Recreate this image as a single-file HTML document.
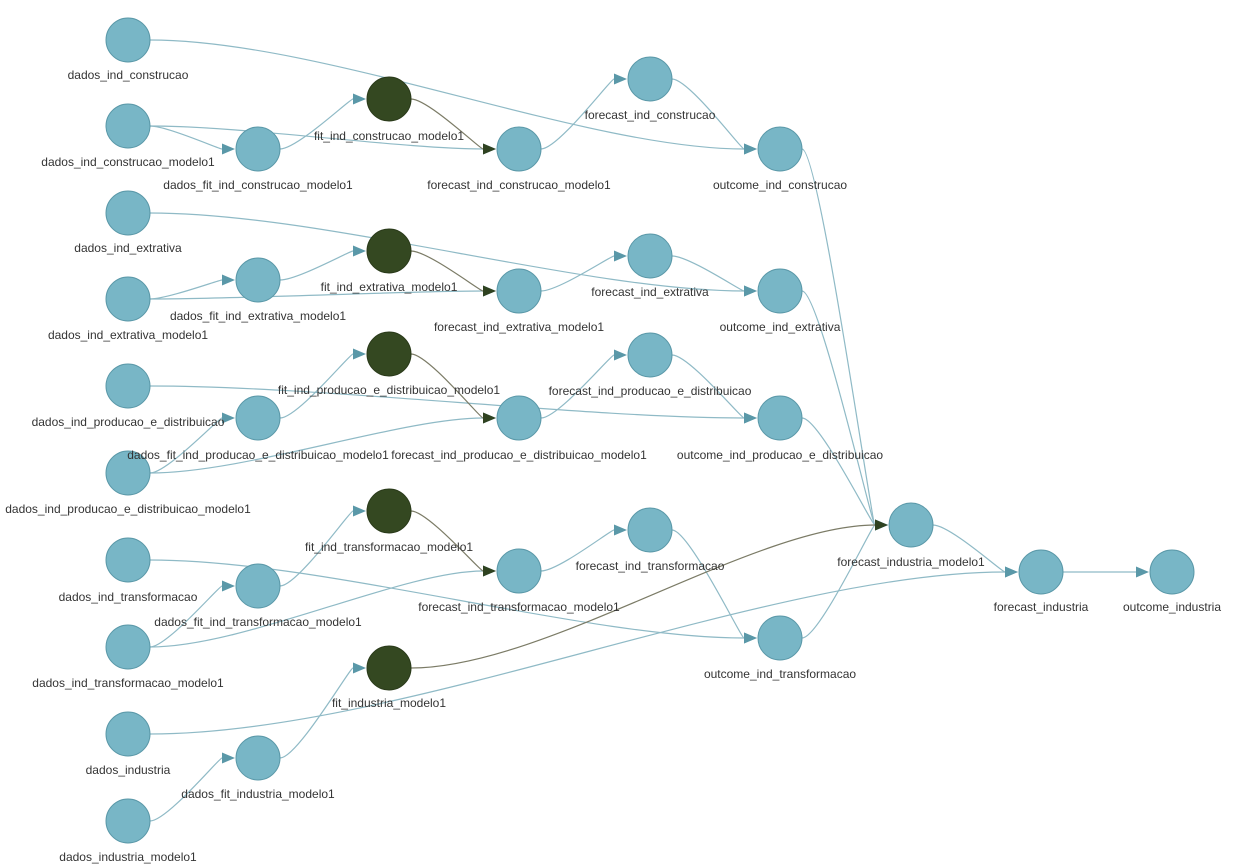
<!DOCTYPE html>
<html><head><meta charset="utf-8"><style>
html,body{margin:0;padding:0;background:#fff;}
svg{display:block}
text{font-family:"Liberation Sans",sans-serif;font-size:12px;fill:#343434;text-anchor:middle}
</style></head><body>
<svg id="g" width="1245" height="864" xmlns="http://www.w3.org/2000/svg">
<g id="edges"></g><g id="nodes"></g>
<g id="labels">
<text x="128" y="79">dados_ind_construcao</text>
<text x="128" y="166">dados_ind_construcao_modelo1</text>
<text x="258" y="189">dados_fit_ind_construcao_modelo1</text>
<text x="389" y="140">fit_ind_construcao_modelo1</text>
<text x="519" y="189">forecast_ind_construcao_modelo1</text>
<text x="650" y="119">forecast_ind_construcao</text>
<text x="780" y="189">outcome_ind_construcao</text>
<text x="128" y="252">dados_ind_extrativa</text>
<text x="128" y="339">dados_ind_extrativa_modelo1</text>
<text x="258" y="320">dados_fit_ind_extrativa_modelo1</text>
<text x="389" y="291">fit_ind_extrativa_modelo1</text>
<text x="519" y="331">forecast_ind_extrativa_modelo1</text>
<text x="650" y="296">forecast_ind_extrativa</text>
<text x="780" y="331">outcome_ind_extrativa</text>
<text x="128" y="426">dados_ind_producao_e_distribuicao</text>
<text x="128" y="513">dados_ind_producao_e_distribuicao_modelo1</text>
<text x="258" y="459">dados_fit_ind_producao_e_distribuicao_modelo1</text>
<text x="389" y="394">fit_ind_producao_e_distribuicao_modelo1</text>
<text x="519" y="459">forecast_ind_producao_e_distribuicao_modelo1</text>
<text x="650" y="395">forecast_ind_producao_e_distribuicao</text>
<text x="780" y="459">outcome_ind_producao_e_distribuicao</text>
<text x="128" y="601">dados_ind_transformacao</text>
<text x="128" y="687">dados_ind_transformacao_modelo1</text>
<text x="258" y="626">dados_fit_ind_transformacao_modelo1</text>
<text x="389" y="551">fit_ind_transformacao_modelo1</text>
<text x="519" y="611">forecast_ind_transformacao_modelo1</text>
<text x="650" y="570">forecast_ind_transformacao</text>
<text x="780" y="678">outcome_ind_transformacao</text>
<text x="128" y="774">dados_industria</text>
<text x="128" y="861">dados_industria_modelo1</text>
<text x="258" y="798">dados_fit_industria_modelo1</text>
<text x="389" y="707">fit_industria_modelo1</text>
<text x="911" y="566">forecast_industria_modelo1</text>
<text x="1041" y="611">forecast_industria</text>
<text x="1172" y="611">outcome_industria</text>
</g>
</svg>
<script>
var N={
dc:[128,40],dcm:[128,126],dfc:[258,149],fc:[389,99,1],fcm:[519,149],fic:[650,79],oc:[780,149],
de:[128,213],dem:[128,299],dfe:[258,280],fe:[389,251,1],fem:[519,291],fie:[650,256],oe:[780,291],
dp:[128,386],dpm:[128,473],dfp:[258,418],fp:[389,354,1],fpm:[519,418],fip:[650,355],op:[780,418],
dt:[128,560],dtm:[128,647],dft:[258,586],ft:[389,511,1],ftm:[519,571],fit:[650,530],ot:[780,638],
di:[128,734],dim:[128,821],dfi:[258,758],fi:[389,668,1],fim:[911,525],fin:[1041,572],oi:[1172,572]};
var E=[];
["c","e","p","t"].forEach(function(s){
E.push(["d"+s,"o"+s],["d"+s+"m","df"+s],["d"+s+"m","f"+s+"m"],["df"+s,"f"+s],["f"+s,"f"+s+"m"],["f"+s+"m","fi"+s],["fi"+s,"o"+s],["o"+s,"fim"]);
});
E.push(["fi","fim"],["di","fin"],["dim","dfi"],["dfi","fi"],["fim","fin"],["fin","oi"]);
var ns="http://www.w3.org/2000/svg",eg=document.getElementById("edges"),ng=document.getElementById("nodes");
function el(t,a,p){var e=document.createElementNS(ns,t);for(var k in a)e.setAttribute(k,a[k]);p.appendChild(e);return e;}
var R=22,K=0.3;
E.forEach(function(e){
var a=N[e[0]],b=N[e[1]],dark=a[2];
var x1=a[0],y1=a[1],x2=b[0],y2=b[1],dx=x2-x1;
var c1x=x1+dx*K,c1y=y1,c2x=x2-dx*K,c2y=y2;
var sx=c1x-x1,sy=c1y-y1,sl=Math.hypot(sx,sy);x1+=sx/sl*R;y1+=sy/sl*R;
var tx=x2-c2x,ty=y2-c2y,tl=Math.hypot(tx,ty);tx/=tl;ty/=tl;
var ex=x2-tx*(R+1),ey=y2-ty*(R+1);
var L=13,W=5.5;var bx=ex-tx*L,by=ey-ty*L;
var col=dark?"#7b7b66":"#8fbac6",ac=dark?"#2f4220":"#5a98a8";
el("path",{d:"M"+x1+" "+y1+" C"+c1x+" "+c1y+" "+c2x+" "+c2y+" "+bx+" "+by,fill:"none",stroke:col,"stroke-width":1.2},eg);
el("polygon",{points:ex+","+ey+" "+(bx-ty*W)+","+(by+tx*W)+" "+(bx+ty*W)+","+(by-tx*W),fill:ac},eg);
});
for(var k in N){var n=N[k];el("circle",{cx:n[0],cy:n[1],r:R,fill:n[2]?"#344821":"#78b6c6",stroke:n[2]?"#2a3a1a":"#5a98a8","stroke-width":1},ng);}
</script>
</body></html>
